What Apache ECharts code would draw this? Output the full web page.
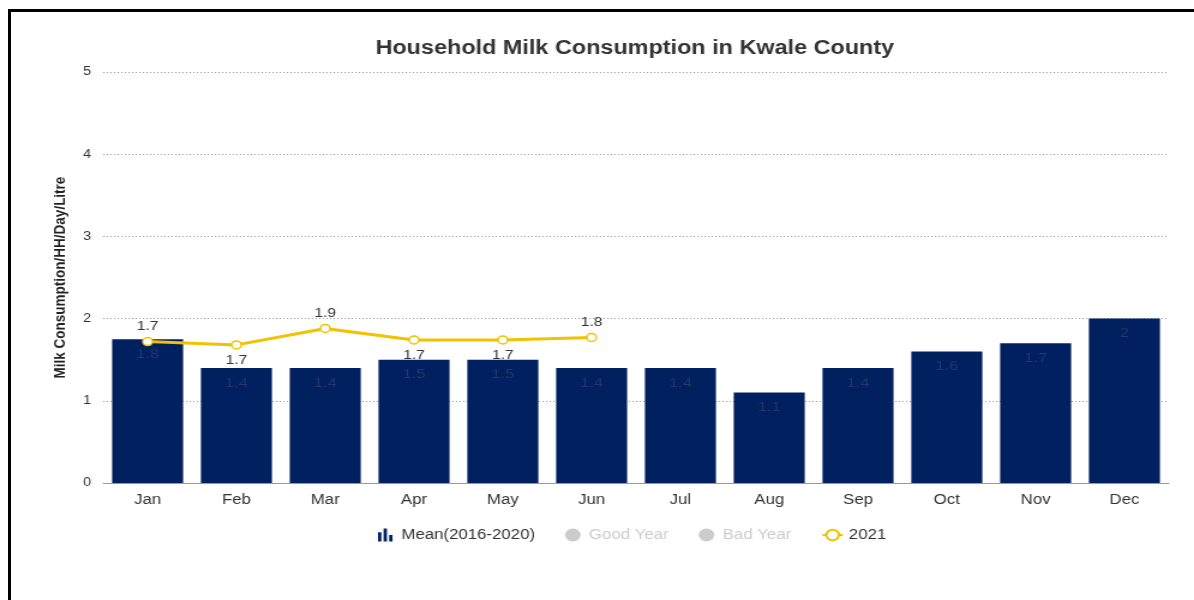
<!DOCTYPE html>
<html>
<head>
<meta charset="utf-8">
<script src="https://cdn.jsdelivr.net/npm/echarts@6/dist/echarts.min.js"></script>
<style>
    html, body { margin: 0; padding: 0; background: #fff; overflow: hidden; }
    #frame {
        position: absolute; left: 8px; top: 9px; width: 1300px; height: 700px;
        border-top: 3px solid #000; border-left: 3px solid #000;
    }
    /* the reference is stretched sideways, so draw narrow and widen it */
    #chart {
        position: absolute; left: 0; top: 0; width: 995px; height: 600px;
        transform: scaleX(1.2); transform-origin: 0 0;
    }
</style>
</head>
<body>
<div id="frame"></div>
<div id="chart"></div>
<script>
const months = ['Jan', 'Feb', 'Mar', 'Apr', 'May', 'Jun', 'Jul', 'Aug', 'Sep', 'Oct', 'Nov', 'Dec'];
const meanValues = [1.75, 1.4, 1.4, 1.5, 1.5, 1.4, 1.4, 1.1, 1.4, 1.6, 1.7, 2];
const goodYear = [];
const badYear = [];
const values2021 = [1.72, 1.68, 1.88, 1.74, 1.74, 1.77];
const labelSides2021 = ['top', 'bottom', 'top', 'bottom', 'bottom', 'top'];

const barIcon = 'path://M0,4 L3,4 L3,14 L0,14 Z M5,0 L8,0 L8,14 L5,14 Z M10,7 L13,7 L13,14 L10,14 Z';

const chart = echarts.init(document.getElementById('chart'));

const option = {
    backgroundColor: 'transparent',
    textStyle: { fontFamily: 'Liberation Sans, Arial, sans-serif' },
    title: {
        text: 'Household Milk Consumption in Kwale County',
        left: 524,
        top: 34,
        textAlign: 'center',
        textStyle: { fontSize: 19.5, fontWeight: 'bold', color: '#333' }
    },
    legend: {
        bottom: 53,
        left: 310,
        itemGap: 25,
        itemWidth: 17,
        itemHeight: 13,
        inactiveColor: '#ccc',
        textStyle: { fontSize: 14, color: '#333' },
        selected: { 'Good Year': false, 'Bad Year': false },
        data: [
            { name: 'Mean(2016-2020)', icon: barIcon, itemStyle: { color: '#002060' } },
            { name: 'Good Year', icon: 'circle' },
            { name: 'Bad Year', icon: 'circle' },
            { name: '2021' }
        ]
    },
    grid: { left: 86, right: 21, top: 72, bottom: 117 },
    xAxis: {
        type: 'category',
        data: months,
        axisTick: { show: false },
        axisLine: { lineStyle: { color: '#999' } },
        axisLabel: { color: '#333', fontSize: 14, margin: 10 }
    },
    yAxis: {
        type: 'value',
        min: 0,
        max: 5,
        interval: 1,
        name: 'Milk Consumption/HH/Day/Litre',
        nameLocation: 'middle',
        nameGap: 29,
        nameTextStyle: { fontSize: 13.5, fontWeight: 'bold', color: '#222' },
        axisLabel: { color: '#333', fontSize: 12, margin: 10 },
        splitLine: { lineStyle: { color: '#999', type: [1, 2] } }
    },
    series: [
        {
            name: 'Mean(2016-2020)',
            type: 'bar',
            data: meanValues,
            barCategoryGap: '20%',
            itemStyle: { color: '#002060' },
            label: {
                show: true,
                position: 'insideTop',
                distance: 8,
                color: '#24376a',
                fontSize: 13.5,
                formatter: p => +p.value.toFixed(1)
            }
        },
        { name: 'Good Year', type: 'line', data: goodYear, itemStyle: { color: '#ccc' } },
        { name: 'Bad Year', type: 'line', data: badYear, itemStyle: { color: '#ccc' } },
        {
            name: '2021',
            type: 'line',
            data: values2021.map((v, i) => ({
                value: v,
                label: { position: labelSides2021[i] }
            })),
            symbol: 'circle',
            symbolSize: 8,
            lineStyle: { color: '#f2c100', width: 3 },
            itemStyle: { color: '#fff', borderColor: '#f2c100', borderWidth: 1.5 },
            label: {
                show: true,
                color: '#333',
                fontSize: 13,
                distance: 4,
                formatter: p => p.value.toFixed(1)
            },
            z: 5
        }
    ]
};

chart.setOption(option);
</script>
</body>
</html>
